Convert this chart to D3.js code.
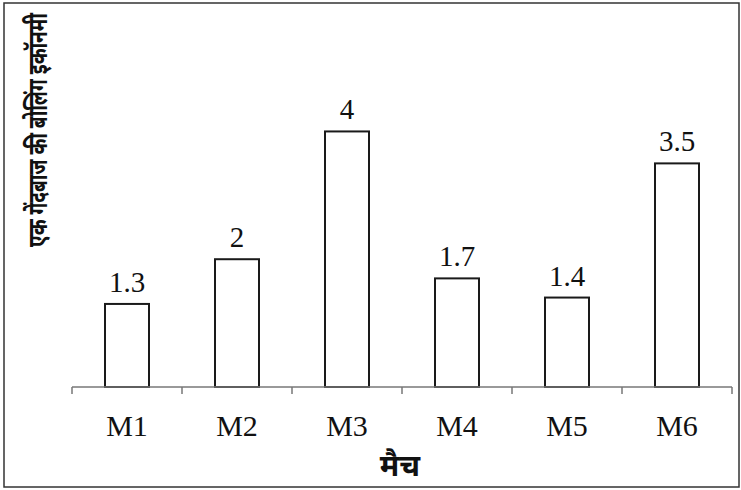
<!DOCTYPE html>
<html>
<head>
<meta charset="utf-8">
<script src="https://cdn.jsdelivr.net/npm/d3@7"></script>
<style>
  html, body { margin: 0; padding: 0; background: #fff; }
  svg { display: block; }
</style>
</head>
<body>
<svg id="chart" width="741" height="490"></svg>
<script>
const categories = ["M1", "M2", "M3", "M4", "M5", "M6"];
const values = [1.3, 2, 4, 1.7, 1.4, 3.5];
const valueLabels = ["1.3", "2", "4", "1.7", "1.4", "3.5"];
const xTitle = "मैच";
const yTitle = "एक गेंदबाज की बोलिंग इकॉनमी";

const svg = d3.select("#chart");
const plot = { left: 72, right: 732, bottom: 387, top: 99.5 };

// outer frame
svg.append("rect")
  .attr("x", 4).attr("y", 3)
  .attr("width", 735).attr("height", 484)
  .attr("fill", "#fff")
  .attr("stroke", "#333").attr("stroke-width", 1.5);

const x = d3.scaleBand()
  .domain(categories)
  .range([plot.left, plot.right])
  .paddingInner(0.6).paddingOuter(0.3);

const xTicks = d3.scaleBand().domain(categories).range([plot.left, plot.right]).padding(0);

const y = d3.scaleLinear().domain([0, 4.5]).range([plot.bottom, plot.top]);

const serif = "'Liberation Serif', 'Times New Roman', serif";
const deva = "'Noto Sans Devanagari', 'Noto Sans', 'Lohit Devanagari', 'FreeSans', sans-serif";

// bars
svg.append("g").selectAll("rect")
  .data(values)
  .join("rect")
  .attr("x", (d, i) => x(categories[i]))
  .attr("y", d => y(d))
  .attr("width", x.bandwidth())
  .attr("height", d => y(0) - y(d))
  .attr("fill", "#fff")
  .attr("stroke", "#1a1a1a")
  .attr("stroke-width", 2);

// value labels
svg.append("g").selectAll("text")
  .data(values)
  .join("text")
  .attr("x", (d, i) => x(categories[i]) + x.bandwidth() / 2)
  .attr("y", d => y(d) - 12)
  .attr("text-anchor", "middle")
  .attr("font-family", serif)
  .attr("font-size", 29)
  .attr("fill", "#111")
  .text((d, i) => valueLabels[i]);

// x axis line and ticks at band boundaries
const axisG = svg.append("g");
axisG.append("line")
  .attr("x1", plot.left).attr("x2", plot.right)
  .attr("y1", plot.bottom).attr("y2", plot.bottom)
  .attr("stroke", "#777").attr("stroke-width", 1.5);
const boundaries = categories.map(c => xTicks(c)).concat([plot.right]);
axisG.selectAll("line.tick")
  .data(boundaries)
  .join("line")
  .attr("class", "tick")
  .attr("x1", d => d).attr("x2", d => d)
  .attr("y1", plot.bottom).attr("y2", plot.bottom + 7)
  .attr("stroke", "#777").attr("stroke-width", 1.5);

// category labels
axisG.selectAll("text")
  .data(categories)
  .join("text")
  .attr("x", d => xTicks(d) + xTicks.bandwidth() / 2)
  .attr("y", 436)
  .attr("text-anchor", "middle")
  .attr("font-family", serif)
  .attr("font-size", 30)
  .attr("fill", "#111")
  .text(d => d);

// x title
svg.append("text")
  .attr("x", 400).attr("y", 476)
  .attr("text-anchor", "middle")
  .attr("font-family", deva)
  .attr("font-weight", "bold")
  .attr("font-size", 30)
  .attr("fill", "#111")
  .text(xTitle);

// y title (compressed along its length to fit the reference span)
const yt = svg.append("text")
  .attr("text-anchor", "middle")
  .attr("font-family", deva)
  .attr("font-weight", "bold")
  .attr("font-size", 27)
  .attr("fill", "#111")
  .text(yTitle);
const natural = yt.node().getComputedTextLength();
const sx = Math.min(1, 234 / natural);
yt.attr("transform", `translate(47,130) rotate(-90) scale(${sx},1)`);
</script>
</body>
</html>
